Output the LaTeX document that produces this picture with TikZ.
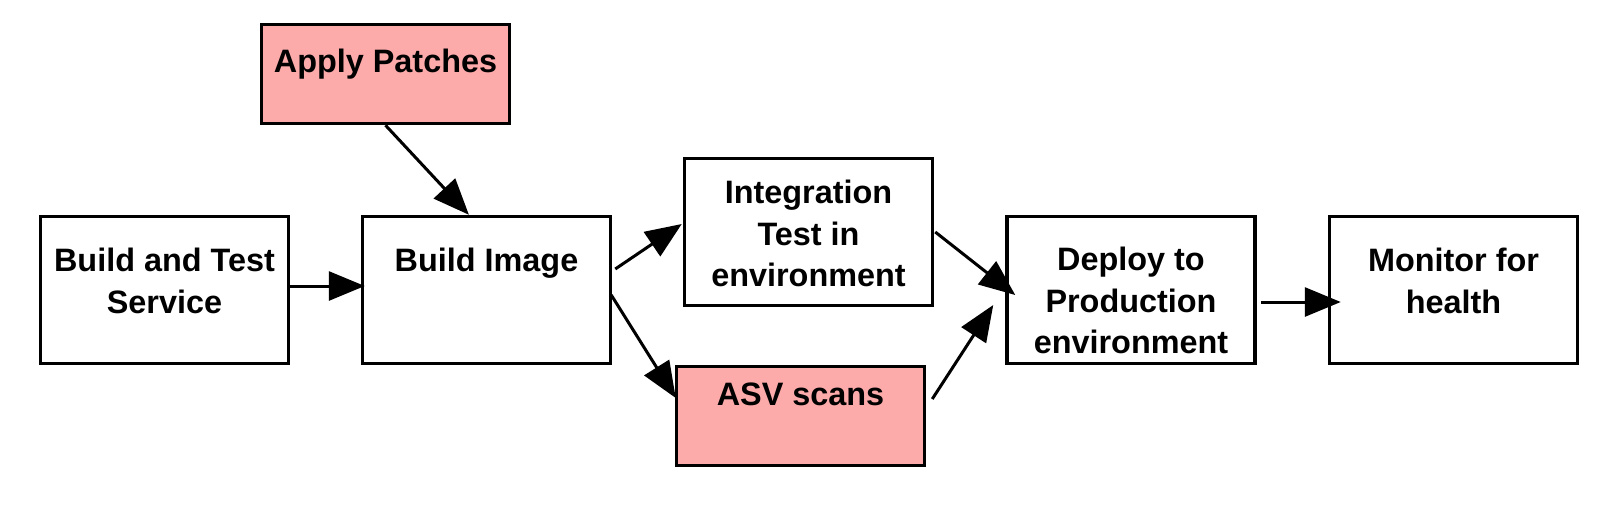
\documentclass[tikz,border=0pt]{standalone}
\usepackage{fontspec}
\setmainfont{Liberation Sans}
\usepackage{tikz}
\usetikzlibrary{arrows.meta,calc}
\definecolor{patchpink}{RGB}{252,170,170}

\begin{document}
\begin{tikzpicture}[x=0.5pt,y=-0.5pt,font=\fontsize{16.2}{20.8}\selectfont\bfseries,
  stagebox/.style={draw,line width=1.75pt,minimum width=124pt,minimum height=73.5pt,inner sep=0pt},
  smallbox/.style={stagebox,minimum height=49.5pt,fill=patchpink},
  lbl/.style={anchor=north,inner sep=0pt,align=center},
  flow/.style={line width=1.5pt,-{Triangle[length=18pt,width=14.5pt]}}]
\useasboundingbox (0,0) rectangle (1601,526);
\node[smallbox,label={[lbl,yshift=-13pt]north:Apply Patches}] (ap) at (385.5,74) {};
\node[stagebox,label={[lbl,yshift=-16.5pt]north:Build and Test\\Service}] (bts) at (164.5,290) {};
\node[stagebox,label={[lbl,yshift=-16.5pt]north:Build Image}] (bi) at (486.5,290) {};
\node[stagebox,label={[lbl,yshift=-11.5pt]north:Integration\\Test in\\environment}] (it) at (808.5,232) {};
\node[smallbox,label={[lbl,yshift=-9pt]north:ASV scans}] (asv) at (800.5,416) {};
\node[stagebox,label={[lbl,yshift=-16pt]north:Deploy to\\Production\\environment}] (dp) at (1131,290) {};
\node[stagebox,label={[lbl,yshift=-16.5pt]north:Monitor for\\health}] (mon) at (1453.5,290) {};
\draw[flow] (ap.south) -- ($(bi.north west)!0.43!(bi.north east)$);
\draw[flow] ($(bts.east)+(-3,-4)$) -- ($(bi.west)+(4,-4)$);
\draw[flow] ($(bi.east)+(3,-21)$) -- ($(it.west)+(-1,-8)$);
\draw[flow] ($(bi.east)+(-1,5)$) -- ($(asv.west)+(1,-18)$);
\draw[flow] ($(it.east)+(1,0)$) -- ($(dp.west)+(10,5)$);
\draw[flow] ($(asv.east)+(6,-17)$) -- ($(dp.west)+(-12,15)$);
\draw[flow] ($(dp.east)+(4,12)$) -- ($(mon.west)+(13,12)$);
\end{tikzpicture}
\end{document}
